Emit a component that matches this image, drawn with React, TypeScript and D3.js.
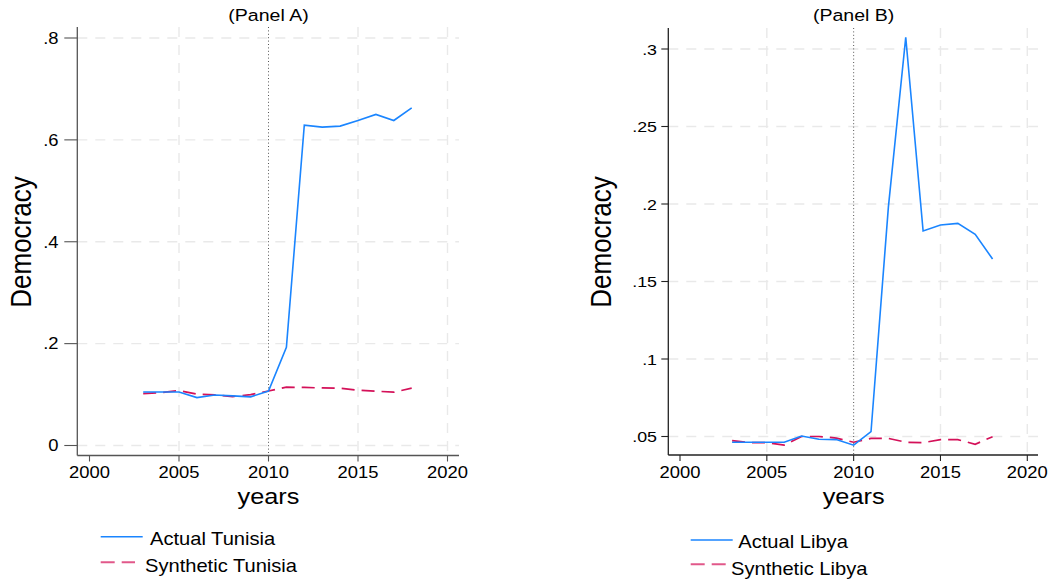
import React from "react";
import * as d3 from "d3";

// Years covered by both series
const years = [2003, 2004, 2005, 2006, 2007, 2008, 2009, 2010, 2011, 2012, 2013, 2014, 2015, 2016, 2017, 2018];

// Panel A: Tunisia
const actualTunisia = [0.105, 0.105, 0.105, 0.094, 0.099, 0.0975, 0.0955, 0.107, 0.193, 0.629, 0.625, 0.627, 0.638, 0.65, 0.638, 0.663];
const syntheticTunisia = [0.102, 0.104, 0.108, 0.1007, 0.0995, 0.096, 0.1, 0.107, 0.1145, 0.114, 0.113, 0.1125, 0.1085, 0.1066, 0.1046, 0.1125];

// Panel B: Libya
const actualLibya = [0.0463, 0.0463, 0.0463, 0.0463, 0.0503, 0.0482, 0.048, 0.0444, 0.0531, 0.198, 0.3076, 0.1826, 0.1865, 0.1875, 0.1805, 0.1645];
const syntheticLibya = [0.0473, 0.046, 0.046, 0.0445, 0.05, 0.05, 0.049, 0.0463, 0.0488, 0.0488, 0.0463, 0.046, 0.048, 0.048, 0.045, 0.0499];

// Axis ticks
const xTicks = [2000, 2005, 2010, 2015, 2020];
const yTicksA = [0, 0.2, 0.4, 0.6, 0.8];
const yTicksB = [0.05, 0.1, 0.15, 0.2, 0.25, 0.3];
const treatmentYear = 2010;

const BLUE = "#1A85FF";
const RED = "#D41159";
const GRID = "#e9e9e9";
const FONT = "'Liberation Sans', Arial, Helvetica, sans-serif";
const SX = 1.15; // horizontal text stretch

const fmt = (v: number) => {
  if (v === 0) return "0";
  return d3.format("")(+v.toFixed(2)).replace(/^0/, "");
};

type PanelProps = {
  title: string;
  actual: number[];
  synthetic: number[];
  actualLabel: string;
  syntheticLabel: string;
  yDomain: [number, number];
  yRange: [number, number];
  xRange: [number, number];
  yTicks: number[];
  axisX: number;
  axisBottom: number;
  axisTop: number;
  plotRight: number;
  yTickLen: number;
  yLabelRight: number;
  yTickFont: number;
  ylabelX: number;
  axisColor: string;
  legend: { lineX1: number; lineX2: number; textX: number; y1: number; t1: number; y2: number; t2: number; textX2: number; dashX2: number };
};

function Txt(props: { x: number; y: number; size: number; anchor?: string; rotate?: number; children: React.ReactNode }) {
  const { x, y, size, anchor = "start", rotate = 0, children } = props;
  return (
    <text
      transform={`translate(${x},${y}) scale(${SX},1)${rotate ? ` rotate(${rotate})` : ""}`}
      fontFamily={FONT}
      fontSize={size}
      textAnchor={anchor}
      fill="#000"
    >
      {children}
    </text>
  );
}

function Panel(p: PanelProps) {
  const x = d3.scaleLinear().domain([2000, 2020]).range(p.xRange);
  const y = d3.scaleLinear().domain(p.yDomain).range(p.yRange);
  const line = d3
    .line<number>()
    .x((_, i) => x(years[i]))
    .y((d) => y(d));
  const cx = x(treatmentYear);
  return (
    <g>
      {/* grid */}
      {p.yTicks.map((t) => (
        <line key={"gy" + t} x1={p.axisX} x2={p.plotRight} y1={y(t)} y2={y(t)} stroke={GRID} strokeWidth={1.4} strokeDasharray="10,8" />
      ))}
      {xTicks
        .filter((t) => t !== 2000 && t !== treatmentYear)
        .map((t) => (
          <line key={"gx" + t} x1={x(t)} x2={x(t)} y1={p.axisTop} y2={p.axisBottom} stroke={GRID} strokeWidth={1.4} strokeDasharray="10,8" />
        ))}
      {/* treatment line */}
      <line x1={cx} x2={cx} y1={p.axisTop} y2={p.axisBottom} stroke="#555" strokeWidth={1} strokeDasharray="1,2.4" />
      {/* series */}
      <path d={line(p.synthetic) || ""} fill="none" stroke={RED} strokeWidth={1.7} strokeDasharray="13,7" />
      <path d={line(p.actual) || ""} fill="none" stroke={BLUE} strokeWidth={1.6} />
      {/* axes */}
      <line x1={p.axisX} x2={p.axisX} y1={p.axisTop} y2={p.axisBottom} stroke={p.axisColor} strokeWidth={1.3} />
      <line x1={p.axisX} x2={p.plotRight} y1={p.axisBottom} y2={p.axisBottom} stroke={p.axisColor} strokeWidth={1.3} />
      {p.yTicks.map((t) => (
        <g key={"ty" + t}>
          <line x1={p.axisX - p.yTickLen} x2={p.axisX} y1={y(t)} y2={y(t)} stroke={p.axisColor} strokeWidth={1.1} />
          <Txt x={p.yLabelRight} y={y(t) + p.yTickFont * 0.36} size={p.yTickFont} anchor="end">
            {fmt(t)}
          </Txt>
        </g>
      ))}
      {xTicks.map((t) => (
        <g key={"tx" + t}>
          <line x1={x(t)} x2={x(t)} y1={p.axisBottom} y2={p.axisBottom + 6} stroke={p.axisColor} strokeWidth={1.1} />
          <Txt x={x(t)} y={478} size={16} anchor="middle">
            {t}
          </Txt>
        </g>
      ))}
      {/* titles */}
      <Txt x={x(2010)} y={21} size={17} anchor="middle">
        {p.title}
      </Txt>
      <Txt x={x(2010)} y={504} size={22} anchor="middle">
        years
      </Txt>
      <Txt x={p.ylabelX} y={242} size={26} anchor="middle" rotate={-90}>
        Democracy
      </Txt>
      {/* legend */}
      <line x1={p.legend.lineX1} x2={p.legend.lineX2} y1={p.legend.y1} y2={p.legend.y1} stroke={BLUE} strokeWidth={1.5} />
      <Txt x={p.legend.textX} y={p.legend.t1} size={17.5}>
        {p.actualLabel}
      </Txt>
      <line x1={p.legend.lineX1} x2={p.legend.dashX2} y1={p.legend.y2} y2={p.legend.y2} stroke={RED} strokeOpacity={0.7} strokeWidth={2} strokeDasharray="14,7" />
      <Txt x={p.legend.textX2} y={p.legend.t2} size={17.5}>
        {p.syntheticLabel}
      </Txt>
    </g>
  );
}

export default function App() {
  return (
    <svg width={1050} height={581} style={{ position: "absolute", left: 0, top: 0, background: "#fff" }}>
      <rect width={1050} height={581} fill="#fff" />
      <Panel
        title="(Panel A)"
        actual={actualTunisia}
        synthetic={syntheticTunisia}
        actualLabel="Actual Tunisia"
        syntheticLabel="Synthetic Tunisia"
        yDomain={[0, 0.8]}
        yRange={[445.5, 38]}
        xRange={[89.5, 447.5]}
        yTicks={yTicksA}
        axisX={77.3}
        axisBottom={455.5}
        axisTop={27}
        plotRight={459}
        yTickLen={13}
        yLabelRight={58.5}
        yTickFont={16}
        ylabelX={31}
        axisColor="#555"
        legend={{ lineX1: 100.7, lineX2: 142.7, textX: 150, y1: 536.7, t1: 544.5, y2: 562.3, t2: 572.3, textX2: 145, dashX2: 135 }}
      />
      <Panel
        title="(Panel B)"
        actual={actualLibya}
        synthetic={syntheticLibya}
        actualLabel="Actual Libya"
        syntheticLabel="Synthetic Libya"
        yDomain={[0.05, 0.3]}
        yRange={[436.5, 49]}
        xRange={[680, 1027.3]}
        yTicks={yTicksB}
        axisX={668.3}
        axisBottom={455}
        axisTop={28}
        plotRight={1038}
        yTickLen={7}
        yLabelRight={657}
        yTickFont={15.5}
        ylabelX={611}
        axisColor="#222"
        legend={{ lineX1: 690.7, lineX2: 732.7, textX: 738.3, y1: 540, t1: 547.5, y2: 564.3, t2: 575, textX2: 731, dashX2: 726 }}
      />
    </svg>
  );
}
